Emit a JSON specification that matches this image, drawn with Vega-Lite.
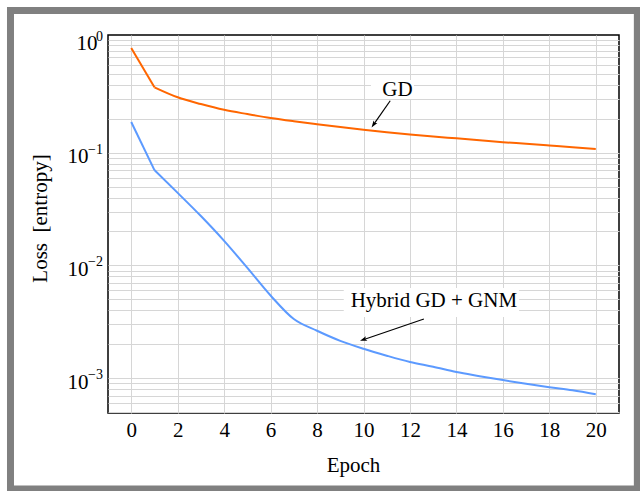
{
  "$schema": "https://vega.github.io/schema/vega-lite/v6.json",
  "width": 511,
  "height": 378,
  "autosize": {"type": "none"},
  "padding": {"left": 108, "top": 35, "right": 21, "bottom": 78},
  "background": "white",
  "config": {
    "view": {"stroke": "black", "strokeWidth": 1.5, "fill": "white"},
    "font": "Liberation Serif",
    "axis": {
      "labelFont": "Liberation Serif",
      "titleFont": "Liberation Serif",
      "labelFontSize": 21,
      "titleFontSize": 21,
      "labelColor": "black",
      "titleColor": "black",
      "titleFontWeight": "normal",
      "gridColor": "#d6d6d6",
      "gridWidth": 1,
      "gridOpacity": 1,
      "domain": false,
      "ticks": false
    }
  },
  "datasets": {
    "loss": [
      {"epoch": 0, "loss": 0.85, "method": "GD"},
      {"epoch": 1, "loss": 0.38, "method": "GD"},
      {"epoch": 2, "loss": 0.31, "method": "GD"},
      {"epoch": 3, "loss": 0.27, "method": "GD"},
      {"epoch": 4, "loss": 0.24, "method": "GD"},
      {"epoch": 5, "loss": 0.22, "method": "GD"},
      {"epoch": 6, "loss": 0.203, "method": "GD"},
      {"epoch": 7, "loss": 0.19, "method": "GD"},
      {"epoch": 8, "loss": 0.179, "method": "GD"},
      {"epoch": 9, "loss": 0.169, "method": "GD"},
      {"epoch": 10, "loss": 0.16, "method": "GD"},
      {"epoch": 11, "loss": 0.152, "method": "GD"},
      {"epoch": 12, "loss": 0.145, "method": "GD"},
      {"epoch": 13, "loss": 0.139, "method": "GD"},
      {"epoch": 14, "loss": 0.134, "method": "GD"},
      {"epoch": 15, "loss": 0.129, "method": "GD"},
      {"epoch": 16, "loss": 0.124, "method": "GD"},
      {"epoch": 17, "loss": 0.12, "method": "GD"},
      {"epoch": 18, "loss": 0.116, "method": "GD"},
      {"epoch": 19, "loss": 0.112, "method": "GD"},
      {"epoch": 20, "loss": 0.108, "method": "GD"},
      {"epoch": 0, "loss": 0.187, "method": "Hybrid"},
      {"epoch": 1, "loss": 0.07, "method": "Hybrid"},
      {"epoch": 2, "loss": 0.044, "method": "Hybrid"},
      {"epoch": 3, "loss": 0.0274, "method": "Hybrid"},
      {"epoch": 4, "loss": 0.0165, "method": "Hybrid"},
      {"epoch": 5, "loss": 0.0095, "method": "Hybrid"},
      {"epoch": 6, "loss": 0.0054, "method": "Hybrid"},
      {"epoch": 7, "loss": 0.00334, "method": "Hybrid"},
      {"epoch": 8, "loss": 0.00263, "method": "Hybrid"},
      {"epoch": 9, "loss": 0.00214, "method": "Hybrid"},
      {"epoch": 10, "loss": 0.00182, "method": "Hybrid"},
      {"epoch": 11, "loss": 0.00158, "method": "Hybrid"},
      {"epoch": 12, "loss": 0.00139, "method": "Hybrid"},
      {"epoch": 13, "loss": 0.00126, "method": "Hybrid"},
      {"epoch": 14, "loss": 0.00113, "method": "Hybrid"},
      {"epoch": 15, "loss": 0.00104, "method": "Hybrid"},
      {"epoch": 16, "loss": 0.00096, "method": "Hybrid"},
      {"epoch": 17, "loss": 0.00089, "method": "Hybrid"},
      {"epoch": 18, "loss": 0.00083, "method": "Hybrid"},
      {"epoch": 19, "loss": 0.00078, "method": "Hybrid"},
      {"epoch": 20, "loss": 0.00072, "method": "Hybrid"}
    ],
    "notes": [
      {"label": "GD", "tx": 11.46, "ty": 0.36, "bx0": 10.32, "bx1": 12.17, "by0": 0.299, "by1": 0.442, "ax0": 11.15, "ay0": 0.289, "ax1": 10.44, "ay1": 0.178, "hx": 10.46, "hy": 0.181},
      {"label": "Hybrid GD + GNM", "tx": 13.03, "ty": 0.0048, "bx0": 9.15, "bx1": 16.7, "by0": 0.00348, "by1": 0.0063, "ax0": 12.6, "ay0": 0.00334, "ax1": 10.02, "ay1": 0.0022, "hx": 10.04, "hy": 0.00221}
    ],
    "exponents": [
      {"loss": 1, "exp": "0"},
      {"loss": 0.1, "exp": "−1"},
      {"loss": 0.01, "exp": "−2"},
      {"loss": 0.001, "exp": "−3"}
    ]
  },
  "layer": [
    {
      "data": {"name": "loss"},
      "transform": [{"filter": "datum.epoch <= 1"}],
      "mark": {"type": "line", "strokeWidth": 2},
      "encoding": {
        "x": {
          "field": "epoch", "type": "quantitative",
          "scale": {"domain": [-1, 21], "nice": false, "zero": false},
          "axis": {"values": [0, 2, 4, 6, 8, 10, 12, 14, 16, 18, 20], "title": "Epoch", "labelPadding": 6, "titleX": 245, "titleY": 58, "titleBaseline": "alphabetic", "grid": true}
        },
        "y": {
          "field": "loss", "type": "quantitative",
          "scale": {"type": "log", "domain": [0.00049, 1.107], "nice": false, "zero": false},
          "axis": {
            "values": [0.0005, 0.0006, 0.0007, 0.0008, 0.0009, 0.001, 0.002, 0.003, 0.004, 0.005, 0.006, 0.007, 0.008, 0.009, 0.01, 0.02, 0.03, 0.04, 0.05, 0.06, 0.07, 0.08, 0.09, 0.1, 0.2, 0.3, 0.4, 0.5, 0.6, 0.7, 0.8, 0.9, 1],
            "labelExpr": "datum.value == 1 || datum.value == 0.1 || datum.value == 0.01 || datum.value == 0.001 ? '10' : ''",
            "labelPadding": {"condition": {"test": "datum.value == 1", "value": 11}, "value": 20},
            "labelOffset": 4,
            "title": "Loss\u2002[entropy]", "titleX": -68, "titleY": 183, "titleAngle": -90, "titleBaseline": "middle", "grid": true
          }
        },
        "color": {
          "field": "method", "type": "nominal",
          "scale": {"domain": ["GD", "Hybrid"], "range": ["#ff6600", "#5c9aff"]},
          "legend": null
        }
      }
    },
    {
      "data": {"name": "loss"},
      "transform": [{"filter": "datum.epoch >= 1"}],
      "mark": {"type": "line", "strokeWidth": 2, "interpolate": "monotone"},
      "encoding": {
        "x": {"field": "epoch", "type": "quantitative"},
        "y": {"field": "loss", "type": "quantitative"},
        "color": {"field": "method", "type": "nominal", "legend": null}
      }
    },
    {
      "data": {"name": "exponents"},
      "mark": {"type": "text", "fontSize": 14, "font": "Liberation Serif", "color": "black", "align": "right", "baseline": "middle", "dx": -5, "dy": -3},
      "encoding": {
        "x": {"datum": -1, "type": "quantitative"},
        "y": {"field": "loss", "type": "quantitative"},
        "text": {"field": "exp"}
      }
    },
    {
      "data": {"name": "notes"},
      "mark": {"type": "rect", "fill": "white"},
      "encoding": {
        "x": {"field": "bx0", "type": "quantitative"},
        "x2": {"field": "bx1"},
        "y": {"field": "by0", "type": "quantitative"},
        "y2": {"field": "by1"}
      }
    },
    {
      "data": {"name": "notes"},
      "mark": {"type": "text", "fontSize": 21, "font": "Liberation Serif", "color": "black", "align": "center", "baseline": "middle"},
      "encoding": {
        "x": {"field": "tx", "type": "quantitative"},
        "y": {"field": "ty", "type": "quantitative"},
        "text": {"field": "label"}
      }
    },
    {
      "data": {"name": "notes"},
      "mark": {"type": "rule", "color": "black", "strokeWidth": 1.2},
      "encoding": {
        "x": {"field": "ax0", "type": "quantitative"},
        "x2": {"field": "ax1"},
        "y": {"field": "ay0", "type": "quantitative"},
        "y2": {"field": "ay1"}
      }
    },
    {
      "data": {"name": "notes"},
      "transform": [{"filter": "datum.label == 'GD'"}],
      "mark": {"type": "point", "shape": "M0,-1.2L0.6,0.6L0,0.2L-0.6,0.6Z", "filled": true, "fill": "black", "stroke": null, "size": 60, "angle": 214, "opacity": 1},
      "encoding": {
        "x": {"field": "hx", "type": "quantitative"},
        "y": {"field": "hy", "type": "quantitative"}
      }
    },
    {
      "data": {"name": "notes"},
      "transform": [{"filter": "datum.label != 'GD'"}],
      "mark": {"type": "point", "shape": "M0,-1.2L0.6,0.6L0,0.2L-0.6,0.6Z", "filled": true, "fill": "black", "stroke": null, "size": 60, "angle": 251, "opacity": 1},
      "encoding": {
        "x": {"field": "hx", "type": "quantitative"},
        "y": {"field": "hy", "type": "quantitative"}
      }
    },
    {
      "data": {"values": [{"x0": -5.198, "x1": 21.79, "y0": 1.826, "y1": 0.0001037}]},
      "mark": {"type": "rect", "fill": null, "fillOpacity": 0, "stroke": "#808080", "strokeWidth": 7},
      "encoding": {
        "x": {"field": "x0", "type": "quantitative"},
        "x2": {"field": "x1"},
        "y": {"field": "y0", "type": "quantitative"},
        "y2": {"field": "y1"}
      }
    }
  ]
}
